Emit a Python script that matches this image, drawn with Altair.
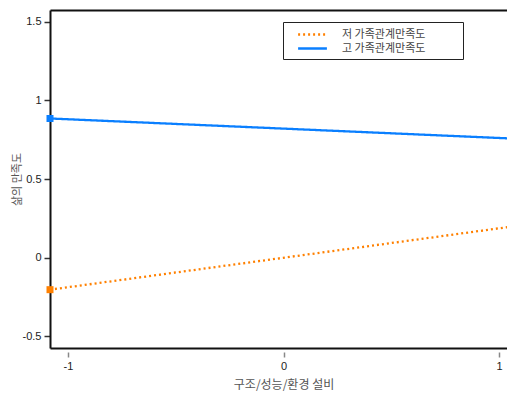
import altair as alt
import pandas as pd

groups = ["저 가족관계만족도", "고 가족관계만족도"]
colors = ["#FF8000", "#0A7FFF"]
x_levels = [-1.083, 1.083]
low_values = [-0.204, 0.202]
high_values = [0.885, 0.756]
x_ticks = [-1, 0, 1]
y_ticks = [-0.5, 0, 0.5, 1, 1.5]

pad = "\u2800" * 4
rows = []
for g, c, vals in zip(groups, colors, [low_values, high_values]):
    for xv, yv in zip(x_levels, vals):
        rows.append({"group": g + pad, "col": c, "x": xv, "y": yv})
df = pd.DataFrame(rows)
dom = [g + pad for g in groups]

font = "Arial, Liberation Sans, Noto Sans CJK KR"
kfont = "Noto Sans CJK KR, DejaVu Sans, Arial"

legend = alt.Legend(
    title=None, orient="none", legendX=233, legendY=12, direction="vertical",
    strokeColor="#222", fillColor="white", padding=5,
    symbolType="M-2.4,0H2.4", symbolSize=144, symbolStrokeWidth=2.6,
    symbolOffset=17, labelOffset=22, rowPadding=1,
    labelFont=kfont, labelFontSize=11, labelColor="#444", labelLimit=400,
)

xscale = alt.Scale(domain=[-1.083, 1.083], range=[0, 467], nice=False, zero=False)
yscale = alt.Scale(domain=[-0.575, 1.575], nice=False, zero=False)

yaxis = alt.Axis(values=y_ticks, title="삶의 만족도", domain=True, domainColor="#111",
                 domainWidth=2, grid=False,
                 tickSize=6, tickColor="#333", tickWidth=1.5,
                 labelPadding=3, labelExpr="datum.value + ''",
                 labelFont=font, labelFontSize=11, labelColor="#222",
                 titleFont=kfont, titleFontSize=11, titleColor="#555",
                 titleFontWeight="normal", titlePadding=0)

xs = alt.X("x:Q", scale=xscale,
           axis=alt.Axis(values=x_ticks, title="구조/성능/환경 설비", domain=False, grid=False,
                         offset=4, tickSize=5, tickColor="#888", tickWidth=1.5,
                         labelPadding=3, labelExpr="datum.value + ''",
                         labelFont=font, labelFontSize=11, labelColor="#222",
                         titleFont=kfont, titleFontSize=12, titleColor="#555",
                         titleFontWeight="normal", titlePadding=8, titleX=233.5))
ys = alt.Y("y:Q", scale=yscale, axis=yaxis)

lines = alt.Chart(df).mark_line(strokeWidth=2.3).encode(
    x=xs, y=ys,
    color=alt.Color("group:N", scale=alt.Scale(domain=dom, range=colors), legend=legend),
    strokeDash=alt.StrokeDash("group:N", scale=alt.Scale(domain=dom, range=[[2, 3], [1, 0]]), legend=legend),
)
points = alt.Chart(df).mark_point(shape="square", size=49, filled=True, opacity=1).encode(
    x=alt.X("x:Q", axis=None), y=alt.Y("y:Q", axis=yaxis), color=alt.Color("col:N", scale=None),
)

def border(orient):
    return alt.Chart(df).mark_point(opacity=0).encode(
        x=alt.X("x:Q", axis=alt.Axis(orient=orient, labels=False, ticks=False, domain=True,
                                     domainColor="#111", domainWidth=2, title=None, grid=False)),
        y=alt.Y("y:Q", axis=yaxis),
    )

chart = alt.layer(lines, points, border("top"), border("bottom")).resolve_axis(
    x="independent"
).properties(
    width=457, height=338,
    autosize=alt.AutoSizeParams(type="none"),
    padding={"left": 42, "top": 2, "right": 0, "bottom": 45},
).configure_view(stroke=None)

chart.save("out.html", embed_options={"renderer": "svg", "actions": False})
